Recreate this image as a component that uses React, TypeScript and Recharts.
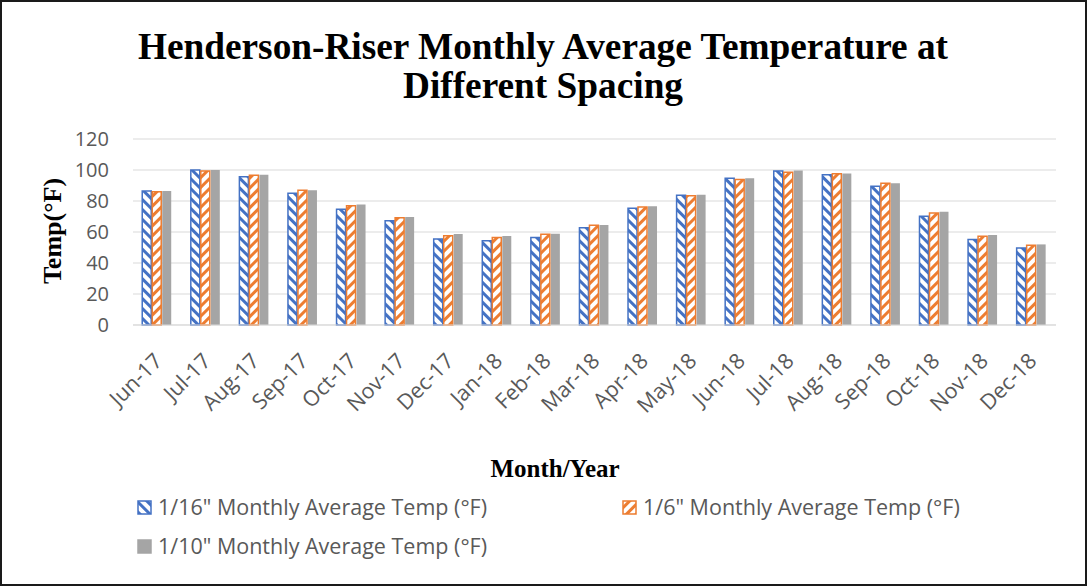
import React from "react";
import { BarChart, Bar, XAxis, YAxis, CartesianGrid } from "recharts";

const months = [
  "Jun-17", "Jul-17", "Aug-17", "Sep-17", "Oct-17", "Nov-17", "Dec-17",
  "Jan-18", "Feb-18", "Mar-18", "Apr-18", "May-18", "Jun-18", "Jul-18",
  "Aug-18", "Sep-18", "Oct-18", "Nov-18", "Dec-18",
];
const temp16 = [86.5, 100, 95.7, 85, 74.6, 67.3, 55.5, 54.4, 56.5, 62.8, 75.3, 83.7, 94.6, 99.4, 97, 89.5, 70.1, 55.1, 49.7];
const temp6 = [86, 99.4, 96.6, 86.9, 77, 69.2, 57.6, 56.5, 58.5, 64.3, 76.1, 83.4, 93.8, 98.5, 97.6, 91.4, 72.3, 57.2, 51.4];
const temp10 = [86.5, 100, 97, 87, 77.8, 69.7, 58.7, 57.4, 58.9, 64.5, 76.6, 84.1, 94.6, 99.6, 97.8, 91.4, 73.1, 58.1, 52];
const yTicks = [0, 20, 40, 60, 80, 100, 120];

const data = months.map((m, i) => ({
  month: m,
  s16: temp16[i],
  s6: temp6[i],
  s10: temp10[i],
}));

const BLUE = "#4472C4";
const ORANGE = "#ED7D31";
const GRAY = "#A5A5A5";
const TEXT = "#595959";
const SANS = "'Open Sans', 'Liberation Sans', sans-serif";
const SERIF = "'Liberation Serif', 'Times New Roman', serif";

// rotated month labels, end of text sits just under the tick
function MonthTick({ x, y, payload }: any) {
  return (
    <g transform={`translate(${x + 1},${y + 24}) rotate(-45)`}>
      <text textAnchor="end" dy="0.35em" fill={TEXT} fontSize={21.5} fontFamily={SANS}>
        {payload.value}
      </text>
    </g>
  );
}

function Patterns() {
  return (
    <defs>
      <pattern id="hatchBlue" width="7" height="7" patternUnits="userSpaceOnUse" patternTransform="rotate(-45)">
        <rect width="7" height="7" fill="#fff" />
        <rect width="3" height="7" fill={BLUE} />
      </pattern>
      <pattern id="hatchOrange" width="7" height="7" patternUnits="userSpaceOnUse" patternTransform="rotate(45)">
        <rect width="7" height="7" fill="#fff" />
        <rect width="3" height="7" fill={ORANGE} />
      </pattern>
    </defs>
  );
}

const legendItems = [
  { label: '1/16" Monthly Average Temp (°F)', fill: "url(#hatchBlue)", stroke: BLUE, left: 137, top: 497 },
  { label: '1/6" Monthly Average Temp (°F)', fill: "url(#hatchOrange)", stroke: ORANGE, left: 622, top: 497 },
  { label: '1/10" Monthly Average Temp (°F)', fill: GRAY, stroke: GRAY, left: 137, top: 536 },
];

export default function App() {
  return (
    <div style={{ position: "absolute", left: 0, top: 0, width: 1088, height: 587, background: "#fff" }}>
      <BarChart
        width={1088}
        height={587}
        data={data}
        margin={{ top: 139, right: 32, left: 93, bottom: 182 }}
        barCategoryGap="19%"
        barGap={1}
      >
        <Patterns />
        <CartesianGrid vertical={false} stroke="#D9D9D9" strokeWidth={1} />
        <XAxis
          dataKey="month"
          interval={0}
          height={80}
          tickLine={false}
          axisLine={{ stroke: "#D9D9D9" }}
          tick={<MonthTick />}
        />
        <YAxis
          width={40}
          domain={[0, 120]}
          ticks={yTicks}
          axisLine={false}
          tickLine={false}
          tickMargin={18}
          tick={{ fill: TEXT, fontSize: 20, fontFamily: SANS }}
        />
        <Bar dataKey="s16" fill="url(#hatchBlue)" stroke={BLUE} strokeWidth={1.5} isAnimationActive={false} />
        <Bar dataKey="s6" fill="url(#hatchOrange)" stroke={ORANGE} strokeWidth={1.5} isAnimationActive={false} />
        <Bar dataKey="s10" fill={GRAY} isAnimationActive={false} />
      </BarChart>

      <svg width={1088} height={587} style={{ position: "absolute", left: 0, top: 0, pointerEvents: "none" }}>
        <Patterns />
        <text x={543} y={59} textAnchor="middle" fontFamily={SERIF} fontWeight="bold" fontSize={37.3} fill="#000">
          Henderson-Riser Monthly Average Temperature at
        </text>
        <text x={543} y={98} textAnchor="middle" fontFamily={SERIF} fontWeight="bold" fontSize={37.3} fill="#000">
          Different Spacing
        </text>
        <text transform="translate(61,231) rotate(-90)" textAnchor="middle" fontFamily={SERIF} fontWeight="bold" fontSize={26} fill="#000">
          Temp(°F)
        </text>
        <text x={555} y={477} textAnchor="middle" fontFamily={SERIF} fontWeight="bold" fontSize={25} fill="#000">
          Month/Year
        </text>
        {legendItems.map((it) => (
          <g key={it.label}>
            <rect x={it.left + 1} y={it.top + 4} width={13} height={13} fill={it.fill} stroke={it.stroke} strokeWidth={1.5} />
            <text x={it.left + 21} y={it.top + 10} dy="0.35em" fontFamily={SANS} fontSize={21.5} fill={TEXT}>
              {it.label}
            </text>
          </g>
        ))}
        <rect x={1} y={1} width={1085} height={584} fill="none" stroke="#1a1a1a" strokeWidth={2} />
      </svg>
    </div>
  );
}
